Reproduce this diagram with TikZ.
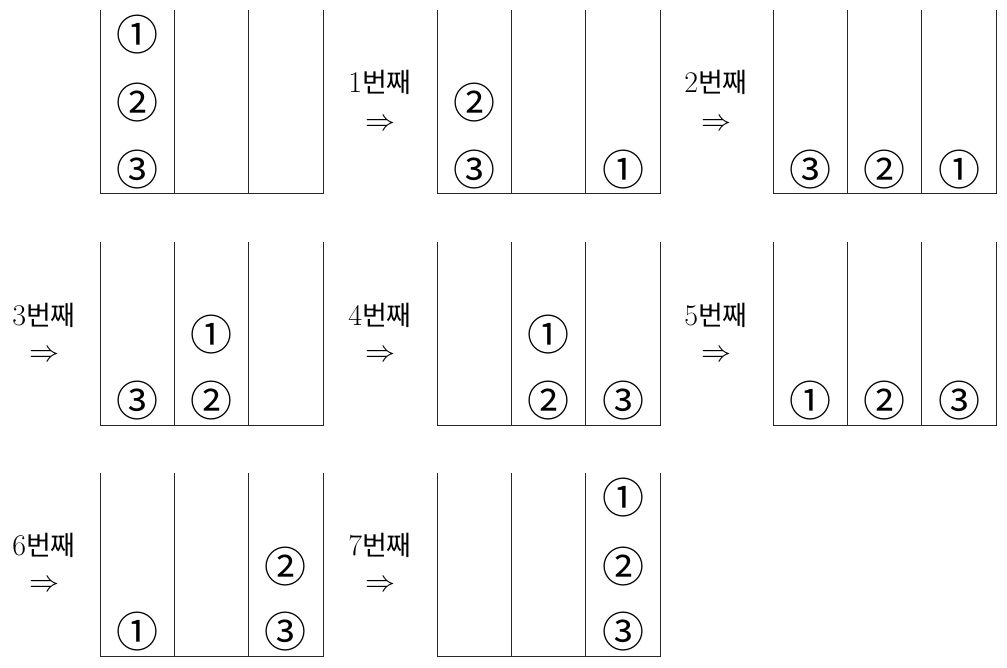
\RequirePackage{fix-cm}
\documentclass[tikz,border=0pt]{standalone}
\usepackage{amssymb,amsmath}
\usepackage{fontspec}
\usepackage{tikz}
\newfontfamily\kr{Noto Sans CJK KR}
\tikzset{
  rack/.style={line width=0.9pt, black!85},
  disc/.style={inner sep=0pt, font=\kr\fontsize{42}{44}\selectfont},
  steplabel/.style={inner sep=0pt, font=\fontsize{30}{36}\selectfont},
  steparrow/.style={inner sep=0pt, font=\fontsize{30}{36}\selectfont}
}
\begin{document}
\begin{tikzpicture}[x=1pt,y=-1pt] % 8 racks
      \useasboundingbox (0,0) rectangle (1007,667);
      % row 1
      \draw[rack] (100,10) -- (100,193) -- (323,193) -- (323,10) (174.3,10) -- (174.3,193) (248.7,10) -- (248.7,193);
      \draw[rack] (437,10) -- (437,193) -- (660,193) -- (660,10) (511.3,10) -- (511.3,193) (585.7,10) -- (585.7,193);
      \draw[rack] (773,10) -- (773,193) -- (996,193) -- (996,10) (847.3,10) -- (847.3,193) (921.7,10) -- (921.7,193);
      \node[disc] (a1) at (137,35){①};
      \node[disc] (a2) at (137,103){②};
      \node[disc] (a3) at (137,170){③};
      \node[steplabel] (l1) at (380,82){1{\kr\fontsize{27}{32}\selectfont 번째}};
      \node[steparrow] (r1) at (380,125){$\Rightarrow$};
      \node[disc] (b2) at (474,103){②};
      \node[disc] (b3) at (474,170){③};
      \node[disc] (b1) at (623,170){①};
      \node[steplabel] (l2) at (716,82){2{\kr\fontsize{27}{32}\selectfont 번째}};
      \node[steparrow] (r2) at (716,125){$\Rightarrow$};
      \node[disc] (c3) at (810,170){③};
      \node[disc] (c2) at (884,170){②};
      \node[disc] (c1) at (959,170){①};
      % row 2
      \draw[rack] (100,242) -- (100,425) -- (323,425) -- (323,242) (174.3,242) -- (174.3,425) (248.7,242) -- (248.7,425);
      \draw[rack] (437,242) -- (437,425) -- (660,425) -- (660,242) (511.3,242) -- (511.3,425) (585.7,242) -- (585.7,425);
      \draw[rack] (773,242) -- (773,425) -- (996,425) -- (996,242) (847.3,242) -- (847.3,425) (921.7,242) -- (921.7,425);
      \node[steplabel] (l3) at (44,315){3{\kr\fontsize{27}{32}\selectfont 번째}};
      \node[steparrow] (r3) at (44,356){$\Rightarrow$};
      \node[disc] (d3) at (137,401){③};
      \node[disc] (d1) at (211,335){①};
      \node[disc] (d2) at (211,401){②};
      \node[steplabel] (l4) at (380,315){4{\kr\fontsize{27}{32}\selectfont 번째}};
      \node[steparrow] (r4) at (380,356){$\Rightarrow$};
      \node[disc] (e1) at (548,335){①};
      \node[disc] (e2) at (548,401){②};
      \node[disc] (e3) at (623,401){③};
      \node[steplabel] (l5) at (716,315){5{\kr\fontsize{27}{32}\selectfont 번째}};
      \node[steparrow] (r5) at (716,356){$\Rightarrow$};
      \node[disc] (f1) at (810,401){①};
      \node[disc] (f2) at (884,401){②};
      \node[disc] (f3) at (959,401){③};
      % row 3
      \draw[rack] (100,473) -- (100,656) -- (323,656) -- (323,473) (174.3,473) -- (174.3,656) (248.7,473) -- (248.7,656);
      \draw[rack] (437,473) -- (437,656) -- (660,656) -- (660,473) (511.3,473) -- (511.3,656) (585.7,473) -- (585.7,656);
      \node[steplabel] (l6) at (44,545){6{\kr\fontsize{27}{32}\selectfont 번째}};
      \node[steparrow] (r6) at (44,586){$\Rightarrow$};
      \node[disc] (g1) at (137,632){①};
      \node[disc] (g2) at (285,567){②};
      \node[disc] (g3) at (285,632){③};
      \node[steplabel] (l7) at (380,545){7{\kr\fontsize{27}{32}\selectfont 번째}};
      \node[steparrow] (r7) at (380,586){$\Rightarrow$};
      \node[disc] (h1) at (623,498){①};
      \node[disc] (h2) at (623,567){②};
      \node[disc] (h3) at (623,632){③};
   \end{tikzpicture}
\end{document}
